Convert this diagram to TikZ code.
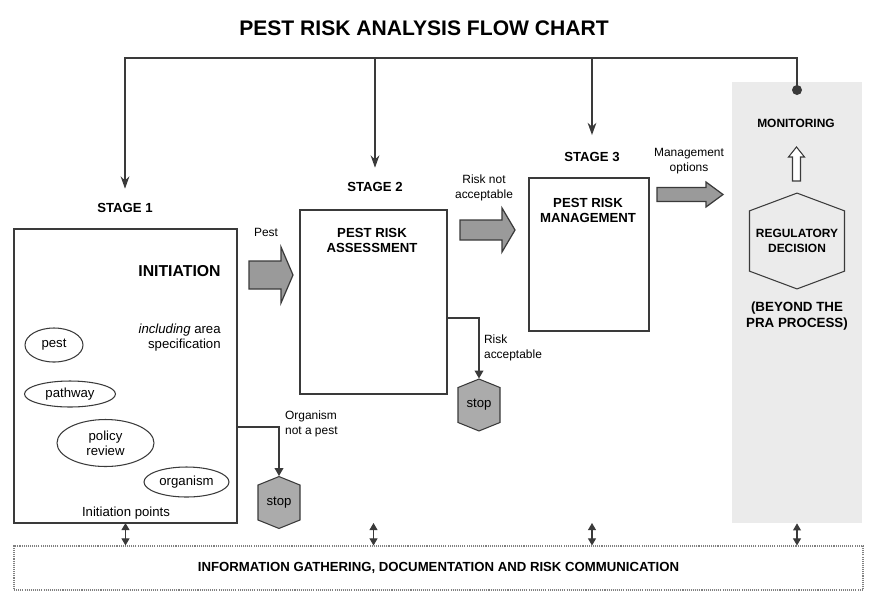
\documentclass[tikz,border=0pt]{standalone}
\usepackage{fontspec}
\setmainfont{Liberation Sans}
\usetikzlibrary{shapes.geometric,shapes.symbols,arrows.meta}

\definecolor{linegray}{HTML}{3A3A3A}
\definecolor{arrowgray}{HTML}{9A9A9A}
\definecolor{stopgray}{HTML}{ABABAB}
\definecolor{panelgray}{HTML}{EBEBEB}

\tikzset{
  stagebox/.style={draw=linegray,line width=0.8pt,inner sep=0pt,outer sep=0pt},
  stagelbl/.style={font=\fontsize{7.5}{9}\selectfont\bfseries,inner sep=1pt},
  boxtitle/.style={font=\fontsize{7.5}{8.5}\selectfont\bfseries,align=center},
  small/.style={font=\fontsize{6.8}{8.5}\selectfont,align=center,inner sep=1pt},
  point/.style={ellipse,draw=linegray,line width=0.6pt,inner sep=0pt,align=center,font=\fontsize{7.5}{8.5}\selectfont},
  stopnode/.style={signal,signal to=north and south,signal pointer angle=136,draw=linegray,fill=stopgray,line width=0.6pt,
    minimum width=0.84cm,minimum height=0.9cm,inner sep=0pt,font=\fontsize{7.5}{8.5}\selectfont},
  conn/.style={draw=linegray,line width=0.6pt,-{Triangle[length=4.5pt,width=5pt]}},
  feed/.style={draw=linegray,line width=0.8pt,-{Stealth[length=7pt,width=5pt]}},
  both/.style={draw=linegray,line width=0.6pt,{Triangle[length=4pt,width=4.5pt]}-{Triangle[length=4pt,width=4.5pt]}},
  blockarrow/.style={draw=linegray,fill=arrowgray,line width=0.7pt},
}

\begin{document}
\begin{tikzpicture}[x=0.2mm,y=-0.2mm]
\useasboundingbox (0,0) rectangle (873,595);

\node (title) at (424,28) {\fontsize{12}{14}\selectfont\bfseries PEST RISK ANALYSIS FLOW CHART};

% beyond the PRA
\node[fill=panelgray,minimum width=2.6cm,minimum height=8.82cm,inner sep=0pt] (panel) at (797,302.5) {};
\node[font=\fontsize{6.8}{8.5}\selectfont\bfseries] (mon) at (796,123) {MONITORING};
\node[signal,signal to=north and south,signal pointer angle=139,draw=linegray,line width=0.6pt,
  minimum width=1.9cm,minimum height=1.82cm,inner sep=0pt,align=center,
  font=\fontsize{6.8}{8.5}\selectfont\bfseries] (dec) at (797,241) {REGULATORY\\DECISION};
\node[font=\fontsize{7.6}{9.5}\selectfont\bfseries,align=center] (beyond) at (797,316) {(BEYOND THE\\PRA PROCESS)};
\draw[draw=linegray,fill=white,line width=0.6pt] (792.5,181) -- (792.5,157) -- (788.5,157) -- (796.5,147)
  -- (804.5,157) -- (800.5,157) -- (800.5,181) -- cycle;

% stages
\node[stagebox,minimum width=4.46cm,minimum height=5.88cm] (s1) at (125.5,376) {};
\node[stagebox,minimum width=2.94cm,minimum height=3.68cm] (s2) at (373.5,302) {};
\node[stagebox,minimum width=2.4cm,minimum height=3.06cm] (s3) at (589,254.5) {};
\node[stagelbl] (st1) at (125,208) {STAGE 1};
\node[stagelbl] (st2) at (375,187) {STAGE 2};
\node[stagelbl] (st3) at (592,157) {STAGE 3};

% stage 1
\node[font=\fontsize{9}{11}\selectfont\bfseries,anchor=east,inner sep=0pt] (init) at (221,271) {INITIATION};
\node[font=\fontsize{7.5}{8.5}\selectfont,align=right,anchor=east,inner sep=0pt] (area) at (221,338) {\textit{including} area\\specification};
\node[point,minimum width=1.16cm,minimum height=0.68cm] (pest) at (54,345) {pest};
\node[point,minimum width=1.82cm,minimum height=0.52cm] (path) at (70,394) {pathway};
\node[point,minimum width=1.94cm,minimum height=0.94cm] (policy) at (105.5,443) {policy\\review};
\node[point,minimum width=1.7cm,minimum height=0.6cm] (org) at (186.5,482) {organism};
\node[font=\fontsize{7.5}{8.5}\selectfont] (ipts) at (126,513) {Initiation points};

% stage 2 and 3
\node[boxtitle] (pra) at (372,240.5) {PEST RISK\\ASSESSMENT};
\node[boxtitle] (prm) at (588,210.5) {PEST RISK\\MANAGEMENT};

% stops
\node[stopnode] (stop1) at (279,502.5) {stop};
\node[stopnode] (stop2) at (479,405) {stop};
\draw[conn] ([yshift=-1.02cm]s1.east) -| (stop1.north);
\draw[conn] ([yshift=-0.32cm]s2.east) -| (stop2.north);
\node[small,align=left,anchor=west] (lorg) at (283,423.5) {Organism\\not a pest};
\node[small,align=left,anchor=west] (lacc) at (482,348) {Risk\\acceptable};

% block arrows
\draw[blockarrow] (249,261) -- (281,261) -- (281,247) -- (293,275) -- (281,303) -- (281,289) -- (249,289) -- cycle;
\draw[blockarrow] (460,220) -- (502,220) -- (502,208) -- (515,230) -- (502,252) -- (502,240) -- (460,240) -- cycle;
\draw[blockarrow] (657,187.5) -- (706,187.5) -- (706,182) -- (723,194.5) -- (706,207) -- (706,201.5) -- (657,201.5) -- cycle;
\node[small] (lpest) at (266,232) {Pest};
\node[small] (lnot) at (484,187.5) {Risk not\\acceptable};
\node[small] (lmgmt) at (689,161) {Management\\options};

% feedback from monitoring
\coordinate (fb) at (797,90);
\coordinate (fbtop) at (797,58);
\fill[linegray] (fb) circle (1mm);
\draw[feed] (fb) -- (fbtop) -| ([yshift=11pt]st1.center);
\draw[feed] (st2 |- fbtop) -- ([yshift=11pt]st2.center);
\draw[feed] (st3 |- fbtop) -- ([yshift=12.5pt]st3.center);

% information
\node[draw=gray,dash pattern=on 0.6pt off 0.6pt,line width=0.6pt,minimum width=16.98cm,minimum height=0.88cm,inner sep=0pt,
  font=\fontsize{7.5}{9}\selectfont\bfseries] (info) at (438.5,568) {INFORMATION GATHERING, DOCUMENTATION AND RISK COMMUNICATION};
\draw[both] (s1.south) -- (s1.south |- info.north);
\draw[both] (s2.south |- s1.south) -- (s2.south |- info.north);
\draw[both] (st3 |- s1.south) -- (st3 |- info.north);
\draw[both] (panel.south) -- (panel.south |- info.north);
\end{tikzpicture}
\end{document}
